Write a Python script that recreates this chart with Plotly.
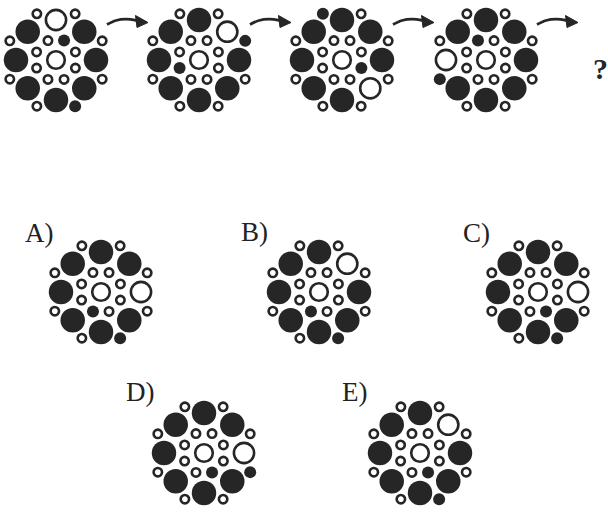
import numpy as np
import plotly.graph_objects as go

# ---- data ----
figure_names = ["1", "2", "3", "4", "A", "B", "C", "D", "E"]
center_x = [56, 199, 342, 486, 101, 319, 538, 204, 420]
center_y = [60, 60, 60, 60, 292, 292, 292, 453, 453]
# index of the hollow large circle in the outer ring (angle = 45*k deg)
hollow_big = [2, 1, 7, 4, 0, 1, 0, 0, 1]
# index of the black small circle in the inner ring (angle = 22.5 + 45*k deg)
black_inner = [1, 4, 7, 2, 5, 5, 6, 6, 6]
# index of the black small circle in the outer small ring (angle = 22.5 + 45*k deg)
black_outer = [6, 0, 2, 4, 6, 6, 6, 7, 6]
option_labels = ["A)", "B)", "C)", "D)", "E)"]
label_x = [39, 254, 476, 140, 354]
label_y = [233, 232, 233, 392, 392]
question_mark = "?"

# ---- geometry (pixels) ----
R_INNER, R_BIG, R_OUTER = 21, 40, 50
INK = "#262626"

big_black, big_hollow, centers, small_hollow, small_black = ([], []), ([], []), ([], []), ([], []), ([], [])

def put(store, cx, cy, r, ang):
    a = np.deg2rad(ang)
    store[0].append(cx + r * np.cos(a))
    store[1].append(cy - r * np.sin(a))

for i in range(len(figure_names)):
    cx, cy = center_x[i], center_y[i]
    centers[0].append(cx); centers[1].append(cy)
    for k in range(8):
        put(big_hollow if k == hollow_big[i] else big_black, cx, cy, R_BIG, 45 * k)
        put(small_black if k == black_inner[i] else small_hollow, cx, cy, R_INNER, 22.5 + 45 * k)
        put(small_black if k == black_outer[i] else small_hollow, cx, cy, R_OUTER, 22.5 + 45 * k)

fig = go.Figure()
def add(store, size, fill, lw):
    fig.add_trace(go.Scatter(x=store[0], y=store[1], mode="markers", hoverinfo="skip",
                             marker=dict(symbol="circle", size=size, color=fill,
                                         line=dict(color=INK, width=lw))))

add(big_black, 24.5, INK, 0)
add(big_hollow, 20.2, "white", 2.6)
add(centers, 17.6, "white", 2.6)
add(small_hollow, 8.4, "white", 2.6)
add(small_black, 12, INK, 0)

# arrows between the sequence figures
for i in range(4):
    cx = center_x[i]
    fig.add_trace(go.Scatter(x=[cx + 51, cx + 60, cx + 70, cx + 81], y=[24.5, 20.5, 19.2, 20.5],
                             mode="lines", line=dict(color=INK, width=2.8, shape="spline"),
                             hoverinfo="skip"))
    fig.add_trace(go.Scatter(x=[cx + 79.5, cx + 92, cx + 81, cx + 79.5], y=[15.5, 22.5, 27.5, 15.5],
                             mode="lines", fill="toself", fillcolor=INK,
                             line=dict(color=INK, width=1), hoverinfo="skip"))

annotations = [dict(x=600, y=68, text="<b>" + question_mark + "</b>", showarrow=False,
                    font=dict(family="Liberation Serif", size=30, color=INK),
                    xref="x", yref="y")]
for t, x, y in zip(option_labels, label_x, label_y):
    annotations.append(dict(x=x, y=y, text=t, showarrow=False,
                            font=dict(family="Liberation Serif", size=27, color="#222222"),
                            xref="x", yref="y"))

fig.update_layout(width=608, height=514, autosize=False, showlegend=False,
                  margin=dict(l=0, r=0, t=0, b=0),
                  paper_bgcolor="white", plot_bgcolor="white",
                  xaxis=dict(range=[0, 608], visible=False, fixedrange=True),
                  yaxis=dict(range=[514, 0], visible=False, fixedrange=True),
                  annotations=annotations)
fig.write_html("out.html", config={"displayModeBar": False, "staticPlot": True},
               post_script="document.body.style.margin='0';document.body.style.overflow='hidden';")
